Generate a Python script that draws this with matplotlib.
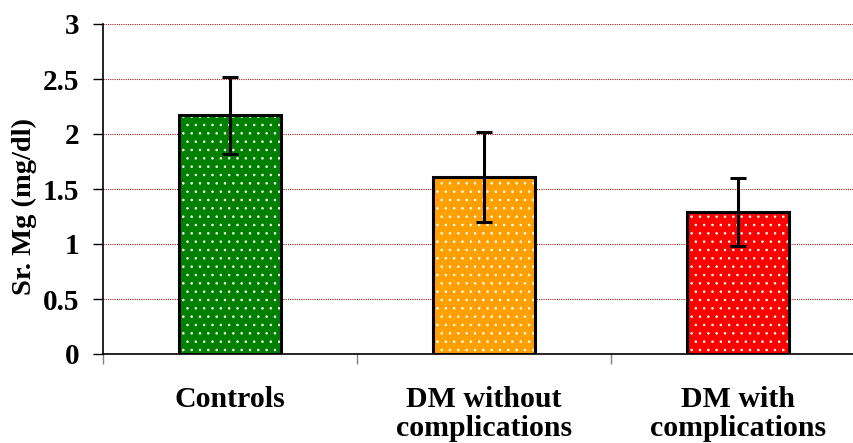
import matplotlib
matplotlib.use('Agg')
import matplotlib.pyplot as plt
from matplotlib.ticker import FixedLocator

# data
groups = ['Controls', 'DM without\ncomplications', 'DM with\ncomplications']
means = [2.17, 1.61, 1.29]
sds = [0.35, 0.41, 0.31]
colors = ['#008000', '#FFA000', '#FF0000']

plt.rcParams['font.family'] = ['Liberation Serif', 'DejaVu Serif']
plt.rcParams['font.weight'] = 'bold'
plt.rcParams['hatch.linewidth'] = 0.6

fig = plt.figure(figsize=(8.54, 4.43), dpi=100)
ax = fig.add_axes([103 / 854, 89 / 443, 762 / 854, 330 / 443])

x = list(range(len(groups)))
# dotted fill (white dots) then a black outline on top
ax.bar(x, means, width=0.4, color=colors, edgecolor='white', hatch='..', linewidth=0, zorder=2)
ax.bar(x, means, width=0.4, fill=False, edgecolor='black', linewidth=2.2, zorder=3)
ax.errorbar(x, means, yerr=sds, fmt='none', ecolor='black', elinewidth=2.2,
            capsize=6, capthick=2.2, zorder=4)

ax.set_xlim(-0.5, 2.5)
ax.set_ylim(0, 3)
ax.set_yticks([0, 0.5, 1, 1.5, 2, 2.5, 3])
ax.set_yticklabels(['0', '0.5', '1', '1.5', '2', '2.5', '3'], fontsize=21, fontweight='bold')
ax.set_xticks(x)
ax.set_xticklabels(groups, fontsize=21.5, fontweight='bold', linespacing=1.12)
ax.xaxis.set_minor_locator(FixedLocator([-0.5, 0.5, 1.5, 2.5]))
ax.tick_params(axis='x', which='major', length=0, pad=23)
ax.tick_params(axis='x', which='minor', length=7, color='grey', width=1)
ax.tick_params(axis='y', length=7, width=1, pad=10)

ax.yaxis.grid(True, color='#A02020', linestyle=(0, (1, 1)), linewidth=0.8, zorder=0)
ax.set_axisbelow(True)
ax.spines['top'].set_visible(False)
ax.spines['right'].set_visible(False)
ax.spines['left'].set_linewidth(1.2)
ax.spines['bottom'].set_linewidth(1.2)

ax.set_ylabel('Sr. Mg (mg/dl)', fontsize=20.5, fontweight='bold')
ax.yaxis.set_label_coords(-0.086, 0.448)

fig.savefig('out.png', dpi=100)
